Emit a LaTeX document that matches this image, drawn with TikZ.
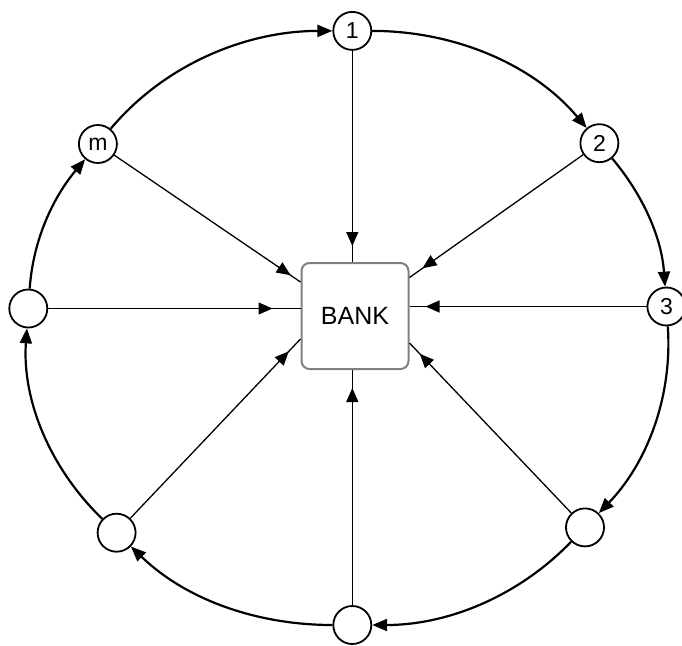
\documentclass[tikz,border=0pt]{standalone}
\usepackage{fontspec}
\setmainfont{Liberation Sans}
\usetikzlibrary{arrows.meta,calc,decorations.markings}
\tikzset{
  pnode/.style={circle,draw=black,line width=1.8pt,fill=white,minimum size=38pt,inner sep=0pt,font=\fontsize{23}{23}\selectfont},
  banknode/.style={rectangle,rounded corners=8pt,draw=black!50,line width=2pt,fill=white,minimum width=107pt,minimum height=106pt,inner sep=0pt,font=\fontsize{25}{25}\selectfont},
  ring/.style={line width=2.2pt,-{Triangle[length=15pt,width=12pt]},looseness=0.9},
  spoke/.style={line width=1.3pt,postaction={decorate},decoration={markings,mark=at position -#1 with {\arrow{Triangle[length=14pt,width=12pt]}}}},
}
\begin{document}
\begin{tikzpicture}[x=1pt,y=1pt]
\useasboundingbox (0,0) rectangle (682,-645);
\node[banknode] (bank) at (355,-316) {BANK};
\node[pnode] (n1) at (352.3,-30.9) {1};
\node[pnode] (n2) at (599.4,-143.2) {2};
\node[pnode] (n3) at (666.4,-306.5) {3};
\node[pnode] (br) at (585,-527.4) {};
\node[pnode] (b) at (352.3,-625) {};
\node[pnode] (bl) at (116.6,-532.7) {};
\node[pnode] (l) at (28.3,-308.5) {};
\node[pnode] (m) at (97.9,-144) {m};
% spoke end points on the bank border
\coordinate (e2) at ($(bank.north east)+(0,-15.5)$);
\coordinate (ebr) at ($(bank.south east)+(0,27)$);
\coordinate (ebl) at ($(bank.south west)+(0,31)$);
\coordinate (em) at ($(bank.north west)+(0,-20)$);
% spokes
\draw[spoke=16pt] (n1) -- (n1 |- bank.north);
\draw[spoke=16pt] (n2) -- (e2);
\draw[spoke=16pt] (n3) -- (n3 -| bank.east);
\draw[spoke=15pt] (br) -- (ebr);
\draw[spoke=18pt] (b) -- (b |- bank.south);
\draw[spoke=17pt] (bl) -- (ebl);
\draw[spoke=28pt] (l) -- (l -| bank.west);
\draw[spoke=12pt] (m) -- (em);
% ring
\draw[ring] (n1) to[out=0,in=130] (n2);
\draw[ring] (n2) to[out=-50,in=94] (n3);
\draw[ring] (n3) to[out=-86,in=46] (br);
\draw[ring] (br) to[out=-134,in=0] (b);
\draw[ring] (b) to[out=180,in=-44] (bl);
\draw[ring] (bl) to[out=136,in=-94] (l);
\draw[ring] (l) to[out=86,in=-130] (m);
\draw[ring] (m) to[out=50,in=180] (n1);
\end{tikzpicture}
\end{document}
